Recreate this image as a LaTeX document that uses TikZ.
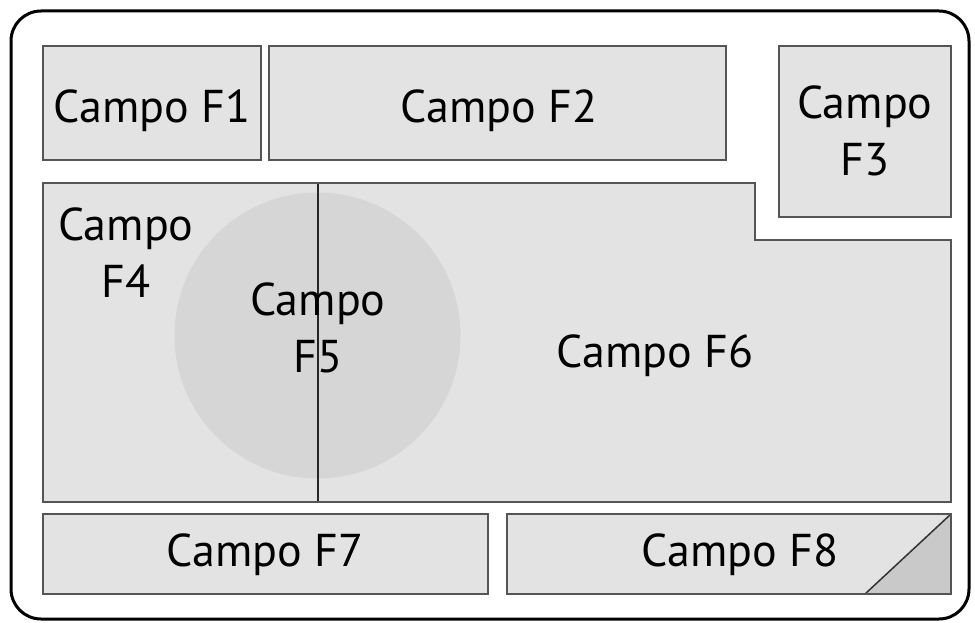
\documentclass[tikz,border=0pt]{standalone}
\usepackage{fontspec}
\setmainfont{PT Sans}
\definecolor{boxfill}{HTML}{E3E3E3}
\definecolor{boxline}{HTML}{555555}
\definecolor{circfill}{HTML}{D6D6D6}
\definecolor{trifill}{HTML}{C9C9C9}
\tikzset{
  field/.style={fill=boxfill, draw=boxline, line width=1.5pt},
  lbl/.style={font=\fontsize{46}{57}\selectfont, align=center, inner sep=0pt, text=black}
}
\begin{document}
\begin{tikzpicture}[x=1pt,y=-1pt]
\useasboundingbox (0,0) rectangle (975,623);
% outer frame
\draw[line width=3pt, rounded corners=30pt] (11,11) rectangle (969,619);
% F1, F2, F3
\draw[field] (43,46) rectangle (261,160);
\draw[field] (269,46) rectangle (726,160);
\draw[field] (779,46) rectangle (951,217);
% F4 / F6 region
\fill[boxfill] (43,183) -- (755,183) -- (755,240) -- (951,240) -- (951,502) -- (43,502) -- cycle;
\fill[circfill] (317.5,335.5) circle (143);
\draw[line width=2pt, black!85] (318,183) -- (318,502);
\draw[draw=boxline, line width=1.5pt] (43,183) -- (755,183) -- (755,240) -- (951,240) -- (951,502) -- (43,502) -- cycle;
% F7, F8
\draw[field] (43,514) rectangle (488,594);
\draw[field] (507,514) rectangle (951,594);
\fill[trifill] (951,514) -- (951,594) -- (865,594) -- cycle;
\draw[line width=1.5pt, black!80] (865,594) -- (951,514);
\draw[draw=boxline, line width=1.5pt] (507,514) rectangle (951,594);
% labels
\node[lbl, anchor=base] (f1) at (152,123) {Campo F1};
\node[lbl, anchor=base] (f2) at (499,123) {Campo F2};
\node[lbl] (f3) at (865,131) {Campo\\F3};
\node[lbl] (f4) at (126,253) {Campo\\F4};
\node[lbl] (f5) at (318,327.5) {Campo\\F5};
\node[lbl, anchor=base] (f6) at (655,367) {Campo F6};
\node[lbl, anchor=base] (f7) at (265,566) {Campo F7};
\node[lbl, anchor=base] (f8) at (740,566) {Campo F8};
\end{tikzpicture}
\end{document}
